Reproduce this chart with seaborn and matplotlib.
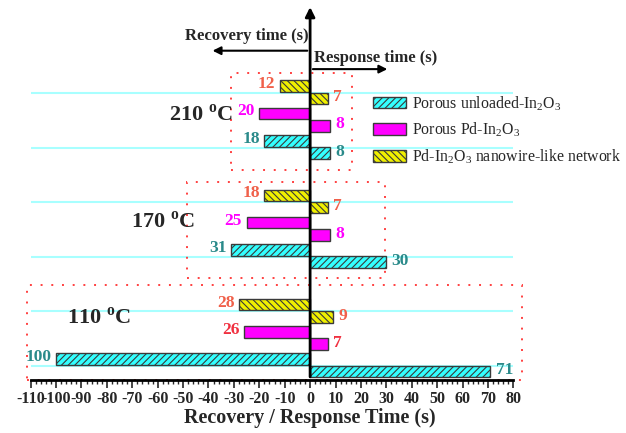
import pandas as pd
import seaborn as sns
import matplotlib.pyplot as plt
from matplotlib.patches import Patch, Rectangle

# data
temps = ['110', '170', '210']
materials = ['Porous unloaded-In$_2$O$_3$', 'Porous Pd-In$_2$O$_3$', 'Pd-In$_2$O$_3$ nanowire-like network']
response = [[71, 7, 9], [30, 8, 7], [8, 8, 7]]       # per temp: cyan, magenta, yellow
recovery = [[100, 26, 28], [31, 25, 18], [18, 20, 12]]
xticks = list(range(-110, 81, 10))

sns.set_style('white')
plt.rcParams['font.family'] = ['Liberation Serif', 'DejaVu Serif']
plt.rcParams['mathtext.fontset'] = 'custom'
plt.rcParams['mathtext.rm'] = 'Liberation Serif'
plt.rcParams['mathtext.bf'] = 'Liberation Serif:bold'
plt.rcParams['hatch.linewidth'] = 0.8

fills = ['#33ffff', '#ff00ff', '#f0f000']
hatches = ['/////', '', '\\\\\\\\\\']
label_colors = [['#2a8a8a', '#f03040', '#f0604a'],
                ['#2a8a8a', '#ff00ff', '#f0604a'],
                ['#2a8a8a', '#ff00ff', '#f0604a']]

# tidy table
rows = []
for i, t in enumerate(temps):
    for j, m in enumerate(materials):
        rows.append(dict(temp=t, material=m, side='response', value=response[i][j],
                         y=8 * i + 2 * j + 0.6, ti=i, mj=j))
        rows.append(dict(temp=t, material=m, side='recovery', value=-recovery[i][j],
                         y=8 * i + 2 * j + 1.5, ti=i, mj=j))
df = pd.DataFrame(rows)

fig = plt.figure(figsize=(6.26, 4.33), dpi=100)
ax = fig.add_axes([0.049, 0.1232, 0.771, 0.8669])

# cyan guide lines
for yl in [1, 5, 9, 13, 17, 21]:
    ax.axhline(yl, color='#a8ffff', lw=1.5, zorder=0)

bar_h = 0.85
for j, m in enumerate(materials):
    for side in ['response', 'recovery']:
        sub = df[(df.material == m) & (df.side == side)]
        sns.barplot(data=sub, x='value', y='y', orient='y', native_scale=True,
                    width=bar_h / 8, color=fills[j], saturation=1, errorbar=None,
                    hatch=hatches[j], edgecolor='#3a3a3a', linewidth=1, ax=ax, zorder=2)

# value labels
for _, r in df.iterrows():
    c = label_colors[r.ti][r.mj]
    if r.value > 0:
        ax.text(r.value + 2, r.y + 0.1, str(abs(r.value)), color=c, fontsize=12.5,
                fontweight='bold', ha='left', va='center')
    else:
        ax.text(r.value - 1.8, r.y + 0.15, str(abs(r.value)), color=c, fontsize=12.5,
                fontweight='bold', ha='right', va='center')

# dotted group boxes
boxes = [(-111.4, 0, 83.5, 6.9), (-48.4, 7.45, 29.5, 14.5), (-31, 15.35, 16.5, 22.5)]
for x0, y0, x1, y1 in boxes:
    ax.add_patch(Rectangle((x0, y0), x1 - x0, y1 - y0, fill=False, ec='#ff4040',
                           ls=(0, (1, 4.5)), lw=1.4, clip_on=False, zorder=1))

# temperature labels
for t, (tx, ty) in zip(temps, [(-83, 4.5), (-58, 11.5), (-43, 19.4)]):
    ax.text(tx, ty, t + r' $^{\mathbf{o}}$C', fontsize=16, fontweight='bold',
            ha='center', va='center')

# axes arrows
ax.annotate('', xy=(0, 27.5), xytext=(0, 0),
            arrowprops=dict(arrowstyle='-|>', color='black', lw=2, mutation_scale=14))
ax.annotate('', xy=(-39.5, 24.1), xytext=(0, 24.1),
            arrowprops=dict(arrowstyle='-|>', color='black', lw=1.5, mutation_scale=12))
ax.annotate('', xy=(31.5, 22.75), xytext=(0, 22.75),
            arrowprops=dict(arrowstyle='-|>', color='black', lw=1.5, mutation_scale=12))
ax.text(-25, 25.15, 'Recovery time (s)', fontsize=12, fontweight='bold', ha='center', va='center')
ax.text(25.6, 23.6, 'Response time (s)', fontsize=12, fontweight='bold', ha='center', va='center')

ax.set_xlim(-110, 80)
ax.set_ylim(0, 27.5)
ax.set_xticks(xticks)
ax.set_xticklabels([str(v) for v in xticks], fontsize=11.5, fontweight='bold')
ax.set_xticks(range(-110, 81, 2), minor=True)
ax.tick_params(axis='x', which='major', direction='out', length=6, width=1.2, pad=2, bottom=True)
ax.tick_params(axis='x', which='minor', direction='out', length=3, width=1, bottom=True)
ax.set_yticks([])
ax.set_ylabel('')
ax.set_xlabel('Recovery / Response Time (s)', fontsize=14.5, fontweight='bold')
ax.xaxis.set_label_coords(0.579, -0.075)
for s in ['left', 'right', 'top']:
    ax.spines[s].set_visible(False)
ax.spines['bottom'].set_linewidth(2)
ax.spines['bottom'].set_color('black')

handles = [Patch(facecolor=fills[j], hatch=hatches[j], edgecolor='#3a3a3a', lw=1)
           for j in range(3)]
ax.legend(handles, materials, loc='upper left', bbox_to_anchor=(373 / 626, 1 - 94 / 433),
          bbox_transform=fig.transFigure, frameon=False, fontsize=11.4, handlelength=2.1,
          handleheight=0.75, handletextpad=0.35, labelspacing=0.5, borderpad=0,
          borderaxespad=0)

fig.savefig('out.png', dpi=100)
